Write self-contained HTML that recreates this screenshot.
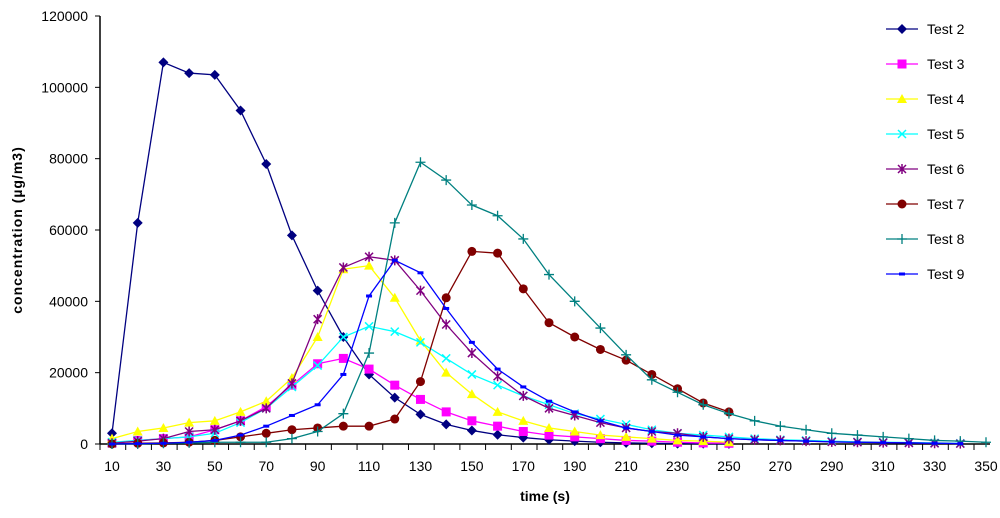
<!DOCTYPE html>
<html><head><meta charset="utf-8"><style>
body{margin:0;background:#fff;width:1000px;height:513px;overflow:hidden}
svg{font-family:"Liberation Sans",Arial,sans-serif}
</style></head><body>
<svg id="c" width="1000" height="513"></svg>
<script>
const xs=[10,20,30,40,50,60,70,80,90,100,110,120,130,140,150,160,170,180,190,200,210,220,230,240,250,260,270,280,290,300,310,320,330,340,350];
const xTicks=[10,30,50,70,90,110,130,150,170,190,210,230,250,270,290,310,330,350];
const yTicks=[0,20000,40000,60000,80000,100000,120000];
const test2=[3000,62000,107000,104000,103500,93500,78500,58500,43000,30000,19500,13000,8300,5500,3800,2600,1800,1200,800,500,300,200,100,100,50];
const test3=[300,1000,1500,2000,4000,6500,10500,16500,22500,24000,21000,16500,12500,9000,6500,5000,3500,2500,2000,1500,1000,800,500,300,200];
const test4=[1500,3500,4500,6000,6500,9000,12000,18500,30000,49000,50000,41000,29000,20000,14000,9000,6500,4500,3500,2500,2000,1500,1000,800,500];
const test5=[500,1000,1500,2000,3000,6000,10000,16000,22000,30000,33000,31500,28500,24000,19500,16500,13500,11000,8500,7000,5500,4000,3000,2500,2000,1500,1200,1000,800,600,500,400,300,200];
const test6=[200,800,1500,3500,4000,6500,10000,17000,35000,49500,52500,51500,43000,33500,25500,19000,13500,10000,8000,6000,4500,3500,3000,2000,1500,1200,1000,800,600,500,400,300,200,100];
const test7=[0,200,300,500,1000,2000,3000,4000,4500,5000,5000,7000,17500,41000,54000,53500,43500,34000,30000,26500,23500,19500,15500,11500,9000];
const test8=[0,0,200,300,500,500,500,1500,3500,8500,25500,62000,79000,74000,67000,64000,57500,47500,40000,32500,25000,18000,14500,11000,8500,6500,5000,4000,3000,2500,2000,1500,1000,800,500];
const test9=[0,100,200,500,1000,2500,5000,8000,11000,19500,41500,51500,48000,38000,28500,21000,16000,12000,9000,6500,4500,3500,2500,2000,1500,1200,1000,800,600,500,400,300,200,100];
const seriesNames=["Test 2","Test 3","Test 4","Test 5","Test 6","Test 7","Test 8","Test 9"];
const seriesData=[test2,test3,test4,test5,test6,test7,test8,test9];
const colors=["#000080","#FF00FF","#FFFF00","#00FFFF","#800080","#800000","#008080","#0000FF"];
const markers=["diamond","square","triangle","x","star","circle","plus","dash"];
const NS="http://www.w3.org/2000/svg",svg=document.getElementById('c');
const X=v=>112+(v-10)*(874/340), Y=v=>444-v*(428/120000);
function mk(t,a,p){const e=document.createElementNS(NS,t);for(const k in a)e.setAttribute(k,a[k]);(p||svg).appendChild(e);return e;}
// axes
let ax=mk('line',{x1:100,y1:16,x2:100,y2:444,stroke:'#000','stroke-width':1.5});

ax=mk('line',{x1:100,y1:444,x2:990,y2:444,stroke:'#000','stroke-width':1.5});

yTicks.forEach(v=>{mk('line',{x1:95,y1:Y(v),x2:100,y2:Y(v),stroke:'#000'});
 const t=mk('text',{x:88,y:Y(v)+5,'text-anchor':'end','font-size':14});t.textContent=v;
 });
for(let i=0;i<=35;i++){const x=100+i*(874/34);if(x<=991)mk('line',{x1:x,y1:444,x2:x,y2:450,stroke:'#000'});}
xTicks.forEach(v=>{const t=mk('text',{x:X(v),y:471,'text-anchor':'middle','font-size':14});t.textContent=v;
 });
let tt=mk('text',{x:545,y:501,'text-anchor':'middle','font-size':14,'font-weight':'bold'});tt.textContent='time (s)';

tt=mk('text',{x:0,y:0,'text-anchor':'middle','font-size':14,'font-weight':'bold',transform:'translate(22,230) rotate(-90)','letter-spacing':'1'});tt.textContent='concentration (µg/m3)';

function marker(g,type,x,y,c){
 if(type==='diamond')mk('polygon',{points:`${x},${y-5} ${x+5},${y} ${x},${y+5} ${x-5},${y}`,fill:c},g);
 else if(type==='square')mk('rect',{x:x-4.5,y:y-4.5,width:9,height:9,fill:c},g);
 else if(type==='triangle')mk('polygon',{points:`${x},${y-5} ${x+5},${y+4} ${x-5},${y+4}`,fill:c},g);
 else if(type==='circle')mk('circle',{cx:x,cy:y,r:4.5,fill:c},g);
 else if(type==='x')mk('path',{d:`M${x-4} ${y-4}L${x+4} ${y+4}M${x+4} ${y-4}L${x-4} ${y+4}`,stroke:c,'stroke-width':1.5},g);
 else if(type==='star')mk('path',{d:`M${x-4} ${y-4}L${x+4} ${y+4}M${x+4} ${y-4}L${x-4} ${y+4}M${x} ${y-5}L${x} ${y+5}`,stroke:c,'stroke-width':1.5},g);
 else if(type==='plus')mk('path',{d:`M${x-5} ${y}L${x+5} ${y}M${x} ${y-5}L${x} ${y+5}`,stroke:c,'stroke-width':1.3},g);
 else if(type==='dash')mk('rect',{x:x-3,y:y-1.5,width:6,height:3,fill:c},g);
}
seriesData.forEach((d,s)=>{
 const g=mk('g',{});
 
 
 const pts=d.map((v,i)=>X(xs[i])+','+Y(v)).join(' ');
 mk('polyline',{points:pts,fill:'none',stroke:colors[s],'stroke-width':1.3},g);
 d.forEach((v,i)=>marker(g,markers[s],X(xs[i]),Y(v),colors[s]));
 const ly=29+s*35;
 const lg=mk('g',{});
 
 
 mk('line',{x1:886,y1:ly,x2:918,y2:ly,stroke:colors[s],'stroke-width':1.3},lg);
 marker(lg,markers[s],902,ly,colors[s]);
 const t=mk('text',{x:927,y:ly+5,'font-size':14},lg);t.textContent=seriesNames[s];
});
</script>
</body></html>
